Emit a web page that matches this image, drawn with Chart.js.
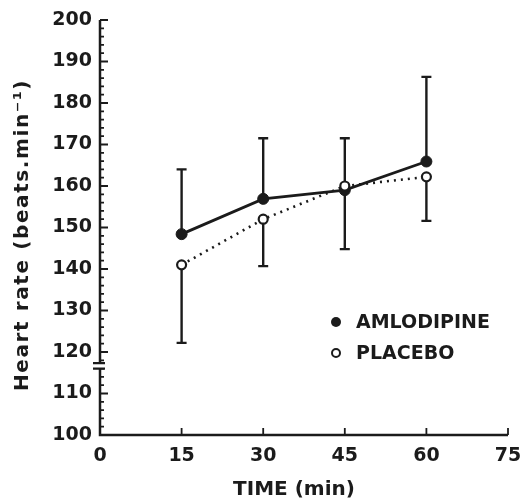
<!DOCTYPE html>
<html>
<head>
<meta charset="UTF-8">
<title>Heart rate vs time</title>
<script src="https://cdn.jsdelivr.net/npm/chart.js"></script>
<style>
  body { margin: 0; background: #fff; }
  canvas { display: block; }
</style>
</head>
<body>
<canvas id="hr" width="526" height="504"></canvas>
<script>
// data
const times = [15, 30, 45, 60];
const amlodipine = [148.4, 156.9, 159.0, 165.9];
const amlodipineUpper = [164.0, 171.5, 171.5, 186.3];   // mean + SD
const placebo = [141.0, 152.0, 160.0, 162.2];
const placeboLower = [122.2, 140.7, 144.8, 151.6];      // mean - SD
const xTicks = [0, 15, 30, 45, 60, 75];
const yTicks = [100, 110, 120, 130, 140, 150, 160, 170, 180, 190, 200];
const seriesNames = ['AMLODIPINE', 'PLACEBO'];
const xTitle = 'TIME (min)';
const yTitle = 'Heart rate (beats.min⁻¹)';

const INK = '#1b1b1b';
const FONT = 'DejaVu Sans';

// axes with inward ticks, axis break, error bars, titles, legend
const decor = {
  id: 'decor',
  beforeDatasetsDraw(chart) {
    const ctx = chart.ctx;
    const x = chart.scales.x, y = chart.scales.y;
    const x0 = x.getPixelForValue(0), y0 = y.getPixelForValue(100);
    ctx.save();
    ctx.strokeStyle = INK;
    ctx.lineWidth = 2.5;
    ctx.lineCap = 'butt';
    // axis lines
    ctx.beginPath();
    ctx.moveTo(x0, y.getPixelForValue(200));
    ctx.lineTo(x0, y0);
    ctx.lineTo(x.getPixelForValue(75), y0);
    ctx.stroke();
    // y ticks: major every 10, minor every 2
    ctx.lineWidth = 1.8;
    ctx.beginPath();
    for (let v = 100; v <= 200; v += 2) {
      const py = y.getPixelForValue(v);
      const len = yTicks.includes(v) ? 8 : 4;
      ctx.moveTo(x0, py);
      ctx.lineTo(x0 + len, py);
    }
    // x ticks pointing up
    xTicks.slice(1).forEach(t => {
      const px = x.getPixelForValue(t);
      ctx.moveTo(px, y0);
      ctx.lineTo(px, y0 - 7);
    });
    ctx.stroke();
    // axis break
    const b1 = y.getPixelForValue(117.3), b2 = y.getPixelForValue(116.0);
    ctx.fillStyle = '#fff';
    ctx.fillRect(x0 - 3, b1, 12, b2 - b1);
    ctx.lineWidth = 2.2;
    ctx.beginPath();
    ctx.moveTo(x0 - 7, b1); ctx.lineTo(x0 + 5, b1);
    ctx.moveTo(x0 - 7, b2); ctx.lineTo(x0 + 5, b2);
    ctx.stroke();
    // error bars
    ctx.lineWidth = 2.4;
    ctx.beginPath();
    times.forEach((t, i) => {
      const px = x.getPixelForValue(t);
      const pairs = [[amlodipine[i], amlodipineUpper[i]], [placebo[i], placeboLower[i]]];
      pairs.forEach(([m, e]) => {
        const pm = y.getPixelForValue(m), pe = y.getPixelForValue(e);
        ctx.moveTo(px, pm); ctx.lineTo(px, pe);
        ctx.moveTo(px - 5, pe); ctx.lineTo(px + 5, pe);
      });
    });
    ctx.stroke();
    ctx.restore();
  },
  afterDraw(chart) {
    const ctx = chart.ctx;
    ctx.save();
    ctx.fillStyle = INK;
    ctx.strokeStyle = INK;
    // axis titles
    ctx.font = 'bold 20px "' + FONT + '"';
    ctx.textAlign = 'center';
    ctx.textBaseline = 'middle';
    ctx.fillText(xTitle, 294, 490);
    ctx.save();
    ctx.translate(23, 235);
    ctx.rotate(-Math.PI / 2);
    ctx.letterSpacing = '1.6px';
    ctx.fillText(yTitle, 0, 0);
    ctx.restore();
    // legend
    ctx.font = 'bold 19px "' + FONT + '"';
    ctx.textAlign = 'left';
    const lx = 336, ly = [322, 353];
    ctx.beginPath(); ctx.arc(lx, ly[0], 5, 0, Math.PI * 2); ctx.fill();
    ctx.lineWidth = 2;
    ctx.beginPath(); ctx.arc(lx, ly[1], 4, 0, Math.PI * 2); ctx.stroke();
    ctx.fillText(seriesNames[0], lx + 20, ly[0] + 1);
    ctx.fillText(seriesNames[1], lx + 20, ly[1] + 1);
    ctx.restore();
  }
};

new Chart(document.getElementById('hr'), {
  type: 'line',
  data: {
    datasets: [
      {
        label: seriesNames[0],
        data: times.map((t, i) => ({ x: t, y: amlodipine[i] })),
        borderColor: INK,
        borderWidth: 2.8,
        pointRadius: 5.5,
        pointBackgroundColor: INK,
        pointBorderColor: INK,
        pointBorderWidth: 1,
        tension: 0,
        order: 1
      },
      {
        label: seriesNames[1],
        data: times.map((t, i) => ({ x: t, y: placebo[i] })),
        borderColor: INK,
        borderWidth: 2.6,
        borderDash: [2, 5],
        pointRadius: 4.5,
        pointBackgroundColor: '#fff',
        pointBorderColor: INK,
        pointBorderWidth: 2.2,
        tension: 0,
        order: 0
      }
    ]
  },
  options: {
    responsive: false,
    animation: false,
    devicePixelRatio: 1,
    layout: { padding: { top: 20, right: 18, left: 0, bottom: 0 } },
    plugins: { legend: { display: false }, tooltip: { enabled: false } },
    scales: {
      x: {
        type: 'linear',
        min: 0, max: 75,
        afterBuildTicks: s => { s.ticks = xTicks.map(v => ({ value: v })); },
        afterFit: s => { s.height = 69; s.paddingLeft = 0; s.paddingRight = 0; },
        grid: { display: false, drawTicks: false },
        border: { display: false },
        ticks: { color: INK, padding: 10, font: { family: FONT, size: 19, weight: 'bold' } }
      },
      y: {
        min: 100, max: 200,
        afterBuildTicks: s => { s.ticks = yTicks.map(v => ({ value: v })); },
        afterFit: s => { s.width = 100; s.paddingTop = 0; s.paddingBottom = 0; },
        grid: { display: false, drawTicks: false },
        border: { display: false },
        ticks: { color: INK, padding: 8, font: { family: FONT, size: 19, weight: 'bold' } }
      }
    }
  },
  plugins: [decor]
});
</script>
</body>
</html>
